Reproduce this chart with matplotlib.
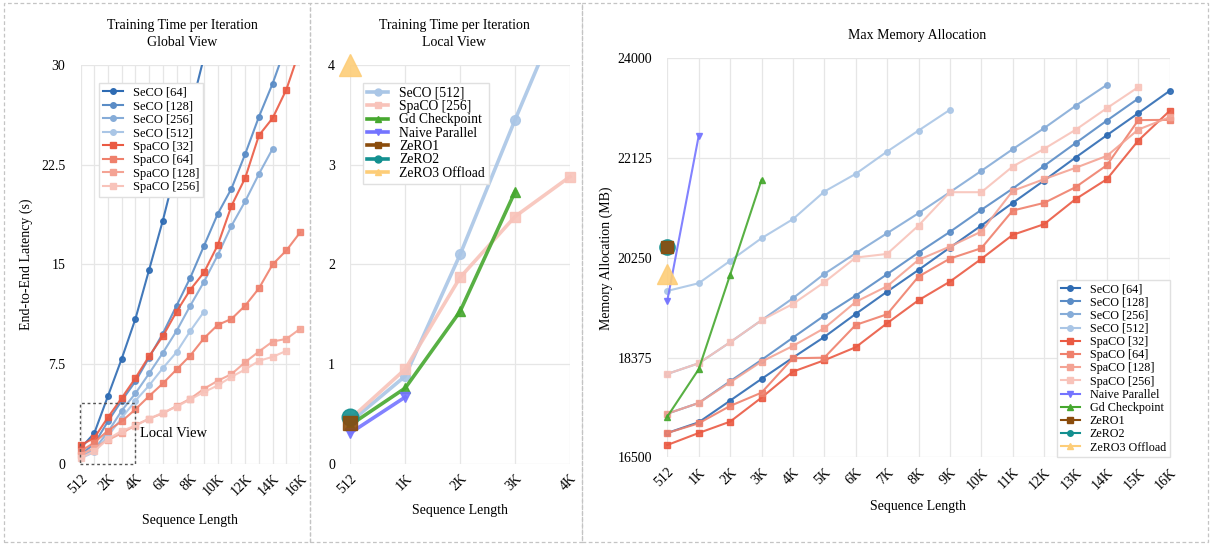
import matplotlib

matplotlib.use("Agg")
import matplotlib.pyplot as plt
import numpy as np
from matplotlib.lines import Line2D
from matplotlib.patches import Rectangle
from matplotlib.transforms import Bbox, TransformedBbox

plt.rcParams["font.family"] = ["Liberation Serif", "DejaVu Serif"]

W, H = 1214, 544

SEQ_LABELS = ["512", "1K", "2K", "3K", "4K", "5K", "6K", "7K", "8K",
              "9K", "10K", "11K", "12K", "13K", "14K", "15K", "16K"]
LOCAL_LABELS = SEQ_LABELS[:5]

# training time per iteration (s)
seco64_t = [1.17, 2.3, 5.1, 7.9, 10.9, 14.6, 18.3, 22.4, 26.5, 30.6]
seco128_t = [0.7, 1.5, 3.2, 4.75, 6.2, 8.0, 9.8, 11.9, 14.0, 16.4, 18.8, 20.7, 23.3, 26.1, 28.6, 31.5]
seco256_t = [0.5, 1.1, 2.4, 4.0, 5.3, 6.8, 8.35, 10.0, 11.9, 13.7, 15.7, 17.9, 19.75, 21.8, 23.7]
seco512_t = [0.42, 0.88, 2.1, 3.45, 4.75, 5.9, 7.2, 8.4, 10.0, 11.45]
spaco32_t = [1.4, 1.95, 3.5, 4.95, 6.45, 8.1, 9.6, 11.45, 13.1, 14.4, 16.45, 19.4, 21.5, 24.7, 26.0, 28.15, 31.2]
spaco64_t = [0.95, 1.6, 2.5, 3.2, 4.1, 5.1, 6.05, 7.1, 8.15, 9.45, 10.45, 10.9, 11.9, 13.2, 15.0, 16.05, 17.4]
spaco128_t = [0.7, 1.2, 1.8, 2.3, 2.9, 3.4, 3.8, 4.35, 4.9, 5.65, 6.25, 6.75, 7.65, 8.45, 9.2, 9.4, 10.15]
spaco256_t = [0.45, 0.95, 1.87, 2.48, 2.88, 3.4, 3.85, 4.3, 4.85, 5.4, 5.9, 6.55, 7.1, 7.75, 8.05, 8.5]
gd_t = [0.39, 0.76, 1.53, 2.73]
naive_t = [0.31, 0.67]
zero1_t = [0.41]
zero2_t = [0.47]
zero3_t = [4.0]

# max memory allocation (MB)
seco64_m = [16957, 17158, 17565, 17973, 18373, 18762, 19195, 19614, 20022, 20442, 20856, 21282, 21702, 22134, 22555, 22969, 23389]
seco128_m = [17320, 17521, 17929, 18330, 18749, 19163, 19539, 19941, 20348, 20737, 21151, 21551, 21978, 22405, 22830, 23244]
seco256_m = [18067, 18267, 18662, 19076, 19490, 19947, 20336, 20712, 21088, 21483, 21884, 22292, 22687, 23106, 23501]
seco512_m = [19627, 19772, 20192, 20618, 20976, 21495, 21828, 22247, 22642, 23032]
spaco32_m = [16731, 16957, 17170, 17621, 18110, 18324, 18569, 19020, 19452, 19802, 20229, 20681, 20882, 21352, 21728, 22454, 23013]
spaco64_m = [16957, 17139, 17465, 17715, 18362, 18373, 18988, 19189, 19897, 20235, 20430, 21138, 21282, 21577, 21991, 22838, 22843]
spaco128_m = [17320, 17521, 17910, 18298, 18593, 18926, 19421, 19715, 20211, 20461, 20743, 21508, 21728, 21941, 22166, 22661, 22894]
spaco256_m = [18067, 18267, 18662, 19076, 19383, 19790, 20254, 20323, 20856, 21483, 21483, 21966, 22298, 22655, 23063, 23458]
naive_m = [19445, 22542]
gd_m = [17264, 18155, 19928, 21715]
zero1_m = [20455]
zero2_m = [20455]
zero3_m = [19941]

SECO_COLORS = ["#2e6bb3", "#5a8cc6", "#86acd8", "#aac6e6"]
SPACO_COLORS = ["#ea5a43", "#ef806c", "#f4a394", "#f8c3ba"]
NAIVE_C, GD_C, ZERO1_C, ZERO2_C, ZERO3_C = "#7474ff", "#46a82f", "#8b4c0c", "#139090", "#fdcd78"


def fig_rect(x0, y0, x1, y1):
    return [x0 / W, 1 - y1 / H, (x1 - x0) / W, (y1 - y0) / H]


def style_axes(ax, n, labels, ylim, yticks, yticklabels):
    ax.set_xlim(0, n - 1)
    ax.set_ylim(*ylim)
    ax.set_xticks(range(n))
    ax.set_xticklabels(labels, rotation=45, ha="right", rotation_mode="anchor", fontsize=10)
    ax.set_yticks(yticks)
    ax.set_yticklabels(yticklabels, fontsize=10)
    ax.tick_params(length=0)
    ax.tick_params(axis="y", pad=11)
    ax.tick_params(axis="x", pad=6)
    ax.grid(True, color="#e6e6e6", lw=0.9)
    ax.set_axisbelow(True)
    for s in ax.spines.values():
        s.set_visible(False)


def series(ax, values, color, marker, ms, lw, label, z=2):
    x = np.arange(len(values))
    line, = ax.plot(x, values, color=color, marker=marker, ms=ms, lw=lw,
                    label=label, alpha=0.9, zorder=z)
    # let edge markers show in full while the lines still stop at the top limit
    x0, x1 = ax.get_xlim()
    y0, y1 = ax.get_ylim()
    span = y1 - y0
    line.set_clip_box(TransformedBbox(Bbox([[x0 - 0.5, y0 - 0.1 * span], [x1 + 0.5, y1]]), ax.transData))
    return line


def legend_handles(lines, ms):
    return [Line2D([], [], color=l.get_color(), marker=l.get_marker(), ms=ms,
                   lw=l.get_linewidth(), label=l.get_label()) for l in lines]


def add_legend(ax, handles, fontsize=9, spacing=0.12, **kw):
    ax.legend(handles=handles, borderaxespad=0, fontsize=fontsize, labelspacing=spacing, handlelength=1.6,
              handletextpad=0.8, fancybox=False, edgecolor="#e0e0e0", framealpha=1, borderpad=0.3, **kw)


def main():
    fig = plt.figure(figsize=(W / 100, H / 100), dpi=100)

    # panel frames
    for x0, x1 in [(4, 310), (310, 582), (582, 1208)]:
        fig.patches.append(Rectangle((x0 / W, 2 / H), (x1 - x0) / W, 539 / H, transform=fig.transFigure,
                                     fill=False, ec="#c4c4c4", lw=0.9, ls=(0, (3, 2))))

    # ---- global view
    ax = fig.add_axes(fig_rect(80.5, 64.9, 300.1, 463.9))
    glob_labels = [lab if i % 2 == 0 else "" for i, lab in enumerate(SEQ_LABELS)]
    style_axes(ax, 17, glob_labels, (0, 30), [0, 7.5, 15, 22.5, 30], ["0", "7.5", "15", "22.5", "30"])
    lines = []
    for vals, c, lab in zip([seco64_t, seco128_t, seco256_t, seco512_t], SECO_COLORS,
                            ["SeCO [64]", "SeCO [128]", "SeCO [256]", "SeCO [512]"]):
        lines.append(series(ax, vals, c, "o", 4, 1.5, lab))
    for vals, c, lab in zip([spaco32_t, spaco64_t, spaco128_t, spaco256_t], SPACO_COLORS,
                            ["SpaCO [32]", "SpaCO [64]", "SpaCO [128]", "SpaCO [256]"]):
        lines.append(series(ax, vals, c, "s", 4, 1.5, lab))
    add_legend(ax, legend_handles(lines, 4), loc="upper left", bbox_to_anchor=(0.084, 0.955))
    ax.add_patch(Rectangle((-0.05, 0), 4.05, 4.6, fill=False, ec="#555555", lw=1, ls=(0, (2, 2)),
                           clip_on=False, zorder=5))
    ax.text(4.35, 2.27, "Local View", fontsize=10.5, va="center", ha="left")
    ax.set_ylabel("End-to-End Latency (s)", fontsize=10)
    ax.yaxis.set_label_coords(-0.216, 0.5)
    ax.set_xlabel("Sequence Length", fontsize=10, va="center")
    ax.xaxis.set_label_coords(0.5, -0.142)
    fig.text(182 / W, 1 - 34 / H, "Training Time per Iteration\nGlobal View", ha="center", va="center",
             fontsize=10, linespacing=1.35)

    # ---- local view
    ax = fig.add_axes(fig_rect(350.3, 64.9, 570, 463.9))
    style_axes(ax, 5, LOCAL_LABELS, (0, 4), [0, 1, 2, 3, 4], ["0", "1", "2", "3", "4"])
    lines = [
        series(ax, seco512_t[:5], SECO_COLORS[3], "o", 7, 2.6, "SeCO [512]"),
        series(ax, spaco256_t[:5], SPACO_COLORS[3], "s", 7, 2.6, "SpaCO [256]"),
        series(ax, gd_t, GD_C, "^", 7, 2.6, "Gd Checkpoint"),
        series(ax, naive_t, NAIVE_C, "v", 7, 2.6, "Naive Parallel"),
        series(ax, zero1_t, ZERO1_C, "s", 10, 2.6, "ZeRO1", z=4),
        series(ax, zero2_t, ZERO2_C, "o", 12, 2.6, "ZeRO2", z=3),
        series(ax, zero3_t, ZERO3_C, "^", 16, 2.6, "ZeRO3 Offload", z=4),
    ]
    lines[-1].set_clip_on(False)
    add_legend(ax, legend_handles(lines, 5), fontsize=9.8, spacing=0.02,
               loc="upper left", bbox_to_anchor=(0.056, 0.955))
    ax.set_xlabel("Sequence Length", fontsize=10, va="center")
    ax.xaxis.set_label_coords(0.5, -0.117)
    fig.text(454 / W, 1 - 34 / H, "Training Time per Iteration\nLocal View", ha="center", va="center",
             fontsize=10, linespacing=1.35)

    # ---- memory
    ax = fig.add_axes(fig_rect(667.3, 58.3, 1169.7, 457.3))
    mem_ticks = [16500, 18375, 20250, 22125, 24000]
    style_axes(ax, 17, SEQ_LABELS, (16500, 24000), mem_ticks, [str(t) for t in mem_ticks])
    lines = []
    for vals, c, lab in zip([seco64_m, seco128_m, seco256_m, seco512_m], SECO_COLORS,
                            ["SeCO [64]", "SeCO [128]", "SeCO [256]", "SeCO [512]"]):
        lines.append(series(ax, vals, c, "o", 4, 1.5, lab))
    for vals, c, lab in zip([spaco32_m, spaco64_m, spaco128_m, spaco256_m], SPACO_COLORS,
                            ["SpaCO [32]", "SpaCO [64]", "SpaCO [128]", "SpaCO [256]"]):
        lines.append(series(ax, vals, c, "s", 4, 1.5, lab))
    lines.append(series(ax, naive_m, NAIVE_C, "v", 4.5, 1.5, "Naive Parallel"))
    lines.append(series(ax, gd_m, GD_C, "^", 4.5, 1.5, "Gd Checkpoint"))
    lines.append(series(ax, zero1_m, ZERO1_C, "s", 9, 1.5, "ZeRO1", z=4))
    lines.append(series(ax, zero2_m, ZERO2_C, "o", 11, 1.5, "ZeRO2", z=3))
    lines.append(series(ax, zero3_m, ZERO3_C, "^", 14, 1.5, "ZeRO3 Offload", z=3))
    add_legend(ax, legend_handles(lines, 4), fontsize=8.7, spacing=0.1,
               loc="lower right", bbox_to_anchor=(1, 0))
    ax.set_ylabel("Memory Allocation (MB)", fontsize=10)
    ax.yaxis.set_label_coords(-0.108, 0.5)
    ax.set_xlabel("Sequence Length", fontsize=10, va="center")
    ax.xaxis.set_label_coords(0.5, -0.124)
    fig.text(917 / W, 1 - 36 / H, "Max Memory Allocation", ha="center", va="center", fontsize=10)

    fig.savefig("out.png", dpi=100)


if __name__ == "__main__":
    main()
